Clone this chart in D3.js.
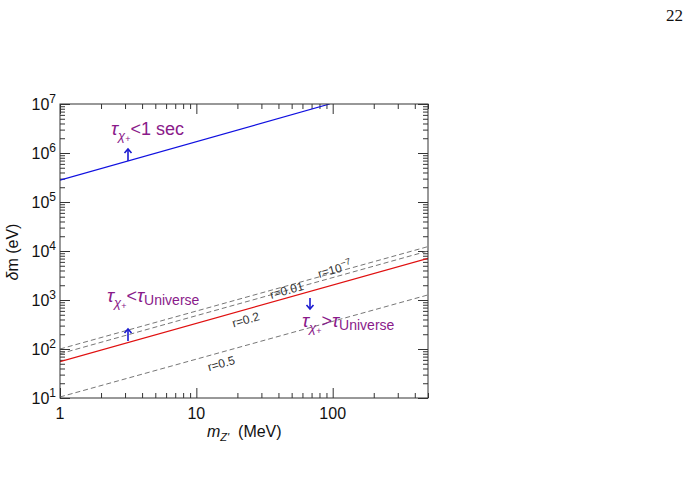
<!DOCTYPE html>
<html><head><meta charset="utf-8">
<script src="https://cdn.jsdelivr.net/npm/d3@7"></script>
<style>
body{margin:0;background:#fff;}
svg{display:block;}
</style></head>
<body>
<script>
// ---- data ----
const xDomain = [1, 500];
const yDomain = [10, 1e7];
const xMajorTicks = [1, 10, 100];
const xTickLabels = ["1", "10", "100"];
const yMajorTicks = [1e1, 1e2, 1e3, 1e4, 1e5, 1e6, 1e7];
const yTickExponents = ["1", "2", "3", "4", "5", "6", "7"];

// lines: endpoints (mass in MeV, delta m in eV)
const blueMass = [1, 95];
const blueDm = [2.8e5, 1e7];
const redMass = [1, 500];
const redDm = [55, 7100];
const r1e7Mass = [1, 500];
const r1e7Dm = [100, 12300];
const r001Mass = [1, 500];
const r001Dm = [80, 10000];
const r05Mass = [1, 500];
const r05Dm = [10.5, 1270];

// ---- layout ----
const SANS = "'Liberation Sans', Arial, sans-serif";
const W = 690, H = 491;
const L = 60, R = 428, T = 104, B = 398;
const svg = d3.select("body").append("svg").attr("width", W).attr("height", H)
  .style("font-family", SANS);

const x = d3.scaleLog().domain(xDomain).range([L, R]);
const y = d3.scaleLog().domain(yDomain).range([B, T]);

// minor ticks
const xMinor = [];
for (let d = 1; d < 1000; d *= 10) for (let k = 2; k <= 9; k++) { const v = d * k; if (v <= 500) xMinor.push(v); }
const yMinor = [];
for (let d = 10; d < 1e7; d *= 10) for (let k = 2; k <= 9; k++) yMinor.push(d * k);

const tickColor = "#333";
function drawAxis(axis, tf, vals, size) {
  const g = svg.append("g").attr("transform", tf)
    .call(axis.tickValues(vals).tickSize(size).tickFormat(""));
  g.select(".domain").remove();
  g.selectAll("line").attr("stroke", tickColor);
  return g;
}
drawAxis(d3.axisBottom(x), `translate(0,${B})`, xMajorTicks, -10);
drawAxis(d3.axisBottom(x), `translate(0,${B})`, xMinor, -5);
drawAxis(d3.axisTop(x), `translate(0,${T})`, xMajorTicks, -10);
drawAxis(d3.axisTop(x), `translate(0,${T})`, xMinor, -5);
drawAxis(d3.axisLeft(y), `translate(${L},0)`, yMajorTicks, -10);
drawAxis(d3.axisLeft(y), `translate(${L},0)`, yMinor, -5);
drawAxis(d3.axisRight(y), `translate(${R},0)`, yMajorTicks, -10);
drawAxis(d3.axisRight(y), `translate(${R},0)`, yMinor, -5);

// x tick labels
svg.append("g").selectAll("text").data(xMajorTicks).join("text")
  .attr("x", d => x(d)).attr("y", B + 21)
  .attr("text-anchor", "middle").attr("font-size", 16).attr("fill", "#111")
  .text((d, i) => xTickLabels[i]);

// y tick labels with superscripts
const yl = svg.append("g").selectAll("text").data(yMajorTicks).join("text")
  .attr("x", L - 4).attr("y", d => y(d) + 6)
  .attr("text-anchor", "end").attr("font-size", 16).attr("fill", "#111");
yl.append("tspan").text("10");
yl.append("tspan").attr("dy", -7).attr("font-size", 12).text((d, i) => yTickExponents[i]);

// clip
svg.append("clipPath").attr("id", "clip").append("rect")
  .attr("x", L).attr("y", T).attr("width", R - L).attr("height", B - T);

const line = d3.line().x(d => x(d[0])).y(d => y(d[1]));
const plot = svg.append("g").attr("clip-path", "url(#clip)");
function addLine(ms, vs, color, dash) {
  const p = plot.append("path").datum(ms.map((m, i) => [m, vs[i]]))
    .attr("d", line).attr("fill", "none").attr("stroke", color).attr("stroke-width", 1.2);
  if (dash) p.attr("stroke-dasharray", dash).attr("stroke-width", 1);
}
addLine(r1e7Mass, r1e7Dm, "#777", "5,3");
addLine(r001Mass, r001Dm, "#777", "5,3");
addLine(r05Mass, r05Dm, "#777", "5,3");
addLine(redMass, redDm, "#e01010", null);
addLine(blueMass, blueDm, "#1010e0", null);

// frame
svg.append("rect").attr("x", L).attr("y", T).attr("width", R - L).attr("height", B - T)
  .attr("fill", "none").attr("stroke", tickColor).attr("stroke-width", 1);

// line labels
function logInterp(ms, vs, m) {
  const t = (Math.log(m) - Math.log(ms[0])) / (Math.log(ms[1]) - Math.log(ms[0]));
  return Math.exp(Math.log(vs[0]) + t * (Math.log(vs[1]) - Math.log(vs[0])));
}
function angleOf(ms, vs) {
  const dx = x(ms[1]) - x(ms[0]), dy = y(vs[1]) - y(vs[0]);
  return Math.atan2(dy, dx) * 180 / Math.PI;
}
function lineLabel(ms, vs, m, off, parts) {
  const px = x(m), py = y(logInterp(ms, vs, m));
  const a = angleOf(ms, vs);
  const t = svg.append("text")
    .attr("transform", `translate(${px},${py}) rotate(${a}) translate(0,${off})`)
    .attr("text-anchor", "middle").attr("font-size", 12).attr("fill", "#333");
  parts.forEach(p => {
    const s = t.append("tspan").text(p.t);
    if (p.sup) s.attr("dy", -5).attr("font-size", 9);
  });
}
lineLabel(r1e7Mass, r1e7Dm, 105, 1, [{t: "r=10"}, {t: "\u22127", sup: true}]);
lineLabel(r001Mass, r001Dm, 46, 4, [{t: "r=0.01"}]);
lineLabel(redMass, redDm, 22, 14, [{t: "r=0.2"}]);
lineLabel(r05Mass, r05Dm, 14.5, 15, [{t: "r=0.5"}]);

// annotations
const purple = "#8a1a8a";
const blue = "#1a1ad0";
function tauText(xp, yp, rest, restIsTau) {
  const t = svg.append("text").attr("x", xp).attr("y", yp).attr("fill", purple).attr("font-size", 18);
  t.append("tspan").attr("font-style", "italic").attr("font-size", 19).text("\u03c4");
  t.append("tspan").attr("dy", 5).attr("font-style", "italic").attr("font-size", 13).text("\u03c7");
  t.append("tspan").attr("dy", 2).attr("font-size", 9).text("+");
  t.append("tspan").attr("dy", -7).attr("font-size", 18).text(rest);
  if (restIsTau) {
    t.append("tspan").attr("font-style", "italic").attr("font-size", 19).text("\u03c4");
    t.append("tspan").attr("dy", 3).attr("font-size", 14).text("Universe");
  }
}
tauText(111, 135, "<1 sec", false);
tauText(107, 302, "<", true);
tauText(302, 327, ">", true);

function arrow(xp, y0, y1) {
  const g = svg.append("g").attr("stroke", blue).attr("fill", "none").attr("stroke-width", 1.6);
  g.append("line").attr("x1", xp).attr("x2", xp).attr("y1", y0).attr("y2", y1);
  const dir = y1 < y0 ? 1 : -1;
  g.append("path").attr("d", `M${xp - 3.5},${y1 + dir * 4}L${xp},${y1}L${xp + 3.5},${y1 + dir * 4}`);
}
arrow(128, 161, 149);
arrow(128, 341, 329);
arrow(310, 298, 309);

// axis titles
const yt = svg.append("text").attr("transform", `translate(18,252) rotate(-90)`)
  .attr("text-anchor", "middle").attr("font-size", 16).attr("fill", "#111");
yt.append("tspan").attr("font-style", "italic").text("\u03b4");
yt.append("tspan").text("m (eV)");
const xt = svg.append("text").attr("x", 207).attr("y", 437).attr("font-size", 16).attr("fill", "#111");
xt.append("tspan").attr("font-style", "italic").text("m");
xt.append("tspan").attr("dy", 4).attr("font-style", "italic").attr("font-size", 11).text("Z'");
xt.append("tspan").attr("dy", -4).text("\u00a0 (MeV)");

// page number
svg.append("text").attr("x", 683).attr("y", 21).attr("text-anchor", "end")
  .style("font-family", "'Liberation Serif', 'DejaVu Serif', serif")
  .attr("font-size", 17).attr("fill", "#111").text("22");
</script>
</body></html>
